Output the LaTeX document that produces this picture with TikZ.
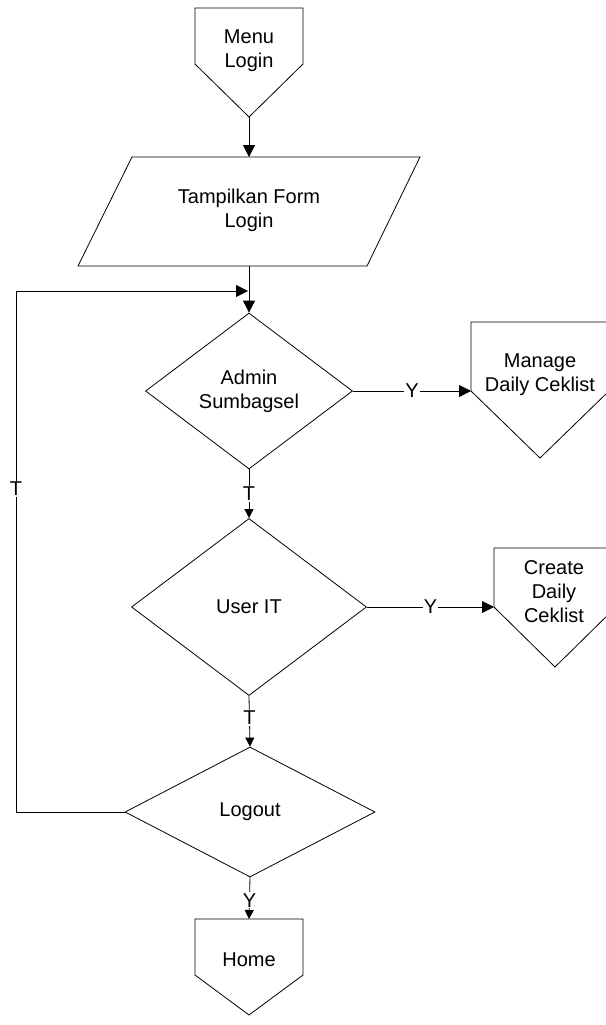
\documentclass[tikz,border=0pt]{standalone}
\usepackage{fontspec}
\setmainfont{Liberation Sans}
\usetikzlibrary{arrows.meta,shapes.geometric}
\begin{document}
\begin{tikzpicture}[x=1pt,y=-1pt,
  line width=0.8pt,
  every node/.style={font=\fontsize{20}{24}\selectfont, align=center},
  shapeline/.style={draw=black, line width=0.8pt},
  decision/.style={diamond, draw=black, inner sep=0pt, line width=0.8pt},
  flow/.style={draw=black, line width=0.8pt, -{Triangle[length=12pt,width=12pt]}},
  smallflow/.style={draw=black, line width=0.8pt, -{Triangle[length=9pt,width=9pt]}},
  lbl/.style={fill=white, inner sep=1pt}]
\useasboundingbox (0,0) rectangle (605,1025);

% Off-page connector: Menu Login
\draw[shapeline] (195,8) -- (303,8) -- (303,64) -- (249,117) -- (195,64) -- cycle;
\node (menu) at (249,51) {Menu\\Login};
\coordinate (menu-b) at (249,117);

% Input/output: Tampilkan Form Login
\draw[shapeline] (132,157) -- (420,157) -- (367,266) -- (78,266) -- cycle;
\node (form) at (249,210) {Tampilkan Form\\Login};
\coordinate (form-t) at (249,157);
\coordinate (form-b) at (249,266);

% Decisions
\node[decision, minimum width=207pt, minimum height=156pt] (admin) at (249,391) {};
\node at (admin) {Admin\\Sumbagsel};
\node[decision, minimum width=235pt, minimum height=177pt] (user) at (249,607) {};
\node at (user) {User IT};
\node[decision, minimum width=250pt, minimum height=130pt] (logout) at (250,812) {};
\node at (logout) {Logout};

% Off-page connector: Manage Daily Ceklist
\draw[shapeline] (471,322) -- (609,322) -- (609,391) -- (540,458) -- (471,391) -- cycle;
\node (manage) at (540,375) {Manage\\Daily Ceklist};
\coordinate (manage-l) at (471,391);

% Off-page connector: Create Daily Ceklist
\draw[shapeline] (494,548) -- (616,548) -- (616,607) -- (555,667) -- (494,607) -- cycle;
\node (create) at (554,592) {Create\\Daily\\Ceklist};
\coordinate (create-l) at (494,607);

% Off-page connector: Home
\draw[shapeline] (195,919) -- (303,919) -- (303,975) -- (249,1015) -- (195,975) -- cycle;
\node (home) at (249,960) {Home};
\coordinate (home-t) at (249,919);

% Connectors
\draw[flow] (menu-b) -- (form-t);
\draw[flow] (form-b) -- (admin.north);
\coordinate (loop-l) at (16,291);
\coordinate (loop-r) at (248,291);
\draw[flow] (logout.west) -- (loop-l |- logout.west) -- node[lbl, pos=0.62] {T} (loop-l) -- (loop-r);
\draw[flow] (admin.east) -- node[lbl, pos=0.5] {Y} (manage-l);
\draw[smallflow] (admin.south) -- node[lbl, pos=0.5] {T} (user.north);
\draw[flow] (user.east) -- node[lbl, pos=0.5] {Y} (create-l);
\draw[smallflow] (user.south) -- node[lbl, pos=0.43] {T} (logout.north);
\draw[smallflow] (logout.south) -- node[lbl, pos=0.55] {Y} (home-t);
\end{tikzpicture}
\end{document}
